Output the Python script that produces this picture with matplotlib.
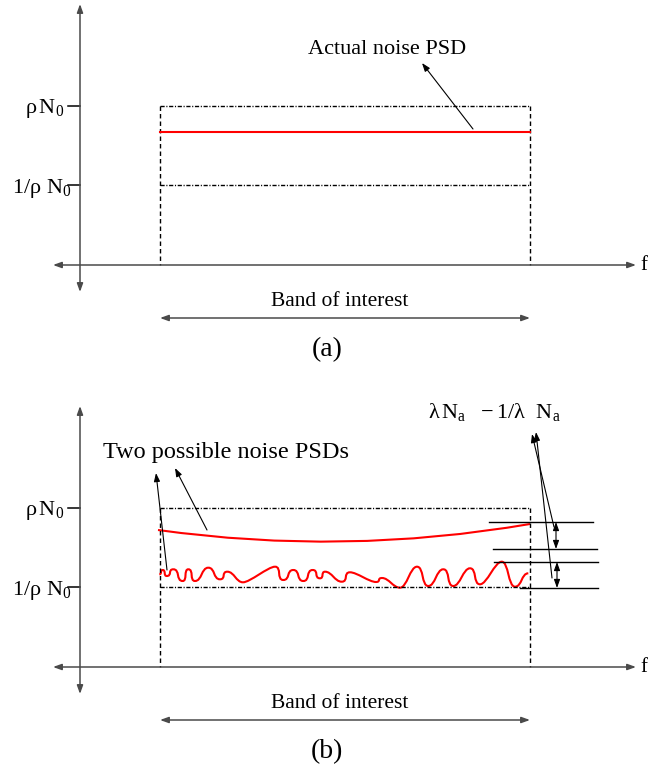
import matplotlib
matplotlib.use("Agg")
import matplotlib.pyplot as plt
from matplotlib.path import Path
from matplotlib.patches import PathPatch

plt.rcParams['font.family'] = ['Liberation Serif', 'DejaVu Serif']
plt.rcParams['mathtext.fontset'] = 'custom'
plt.rcParams['mathtext.rm'] = 'Liberation Serif'
plt.rcParams['mathtext.it'] = 'Liberation Serif'

# coordenadas em pixels (y cresce para baixo), painel (b) = painel (a) deslocado
desloc_paineis = [0, 402]
rotulos_paineis = ['(a)', '(b)']
nivel_rho = 106          # rho N0
nivel_inv_rho = 185      # 1/rho N0
nivel_eixo_f = 265
banda = [160, 530]
nivel_banda = 318

# painel (a): PSD real
nivel_psd_real = 132

# painel (b): PSD suave (inicio, controle, fim) - bezier quadratica
psd_suave = [(158, 530), (344, 556), (530, 524)]
# PSD ondulada: extremos (picos / vales)
psd_onda_x = [159.3, 162.7, 166.7, 173.3, 182.7, 188.3, 195, 208.3, 220, 227.3,
              243, 275, 283.3, 293.3, 303.3, 312.7, 320, 325, 341.7, 350,
              376, 382, 400, 417, 428.3, 443.3, 453.3, 470, 480, 501.7, 515, 528.3]
psd_onda_y = [574.3, 570, 576, 569.3, 581, 569.3, 581, 567.7, 579.3, 571.7,
              582.3, 566.7, 580, 570, 581, 570, 578.3, 571.7, 581.7, 572.3,
              582, 578, 587.7, 566.7, 586, 569.3, 586, 568.3, 584.3, 561.7, 586.7, 573.3]

# linhas de referencia a direita (y, x_ini, x_fim)
refs_y = [522, 549, 562, 588]
refs_x0 = [489, 493, 494, 520]
refs_x1 = [593, 597, 598, 598]

fig = plt.figure(figsize=(6.48, 7.68), dpi=100)
ax = fig.add_axes([0, 0, 1, 1])
ax.set_xlim(0, 648)
ax.set_ylim(768, 0)
ax.axis('off')

cinza = '#4a4a4a'
tracejado = (0, (3.2, 2.2))
traco_ponto = (0, (3, 1.2, 0.8, 1.2))


def seta(x0, y0, x1, y1, estilo='-|>', cor='black', lw=0.8):
    ax.annotate('', xy=(x1, y1), xytext=(x0, y0),
                arrowprops=dict(arrowstyle=estilo + ',head_length=0.5,head_width=0.18',
                                color=cor, lw=lw, shrinkA=0, shrinkB=0))


for dy, rot in zip(desloc_paineis, rotulos_paineis):
    # eixos
    seta(80, 292 + dy, 80, 4 + dy, '<|-|>', cinza, 1.1)
    seta(53, nivel_eixo_f + dy, 636, nivel_eixo_f + dy, '<|-|>', cinza, 1.1)
    ax.text(640, nivel_eixo_f + dy, 'f', fontsize=15, va='center', ha='left')
    # marcas e rotulos
    for yv in (nivel_rho, nivel_inv_rho):
        ax.plot([68, 80], [yv + dy, yv + dy], color='black', lw=1.1)
    ax.text(64, nivel_rho + dy + 3, r'$\mathrm{\rho\,N_0}$', fontsize=16, ha='right', va='center')
    ax.text(72, nivel_inv_rho + dy + 3, r'$\mathrm{1/\rho\ N_0}$', fontsize=16, ha='right', va='center')
    # banda
    for xv in banda:
        ax.plot([xv, xv], [nivel_rho + dy, nivel_eixo_f + dy], color='black', lw=1.0, ls=tracejado)
    for yv in (nivel_rho, nivel_inv_rho):
        ax.plot(banda, [yv + dy, yv + dy], color='black', lw=1.0, ls=traco_ponto)
    seta(banda[0], nivel_banda + dy, banda[1], nivel_banda + dy, '<|-|>', cinza, 1.1)
    ax.text(340, nivel_banda + dy - 16, 'Band of interest', fontsize=15.5, ha='center', va='center')
    ax.text(327, nivel_banda + dy + 32, rot, fontsize=20, ha='center', va='center')

# ---- painel (a)
ax.plot(banda, [nivel_psd_real, nivel_psd_real], color='red', lw=1.5)
seta(473, 129, 422, 63)
ax.text(308, 54, 'Actual noise PSD', fontsize=16, ha='left', va='baseline')

# ---- painel (b)
ax.add_patch(PathPatch(Path(psd_suave, [Path.MOVETO, Path.CURVE3, Path.CURVE3]),
                       fill=False, edgecolor='red', lw=1.5))

pts = list(zip(psd_onda_x, psd_onda_y))
verts = [pts[0]]
codes = [Path.MOVETO]
for (x0, y0), (x1, y1) in zip(pts[:-1], pts[1:]):
    h = min(0.85 * (x1 - x0), 7)
    verts += [(x0 + h, y0), (x1 - h, y1), (x1, y1)]
    codes += [Path.CURVE4] * 3
ax.add_patch(PathPatch(Path(verts, codes), fill=False, edgecolor='red', lw=1.5))

seta(167, 570, 156, 473)
seta(207, 530, 175, 468)
ax.text(103, 458, 'Two possible noise PSDs', fontsize=17.5, ha='left', va='baseline')

for yv, xa, xb in zip(refs_y, refs_x0, refs_x1):
    ax.plot([xa, xb], [yv, yv], color='black', lw=1.0)
seta(556, refs_y[0], 556, refs_y[1], '<|-|>')
seta(557, refs_y[2], 557, refs_y[3], '<|-|>')
seta(554, 527, 532, 434)
seta(552, 578, 536, 432)
ax.text(428, 418, r'$\mathrm{\lambda\,N_a\ \ -1/\lambda\ \ N_a}$',
        fontsize=16, ha='left', va='baseline')

fig.savefig('out.png', dpi=100)
